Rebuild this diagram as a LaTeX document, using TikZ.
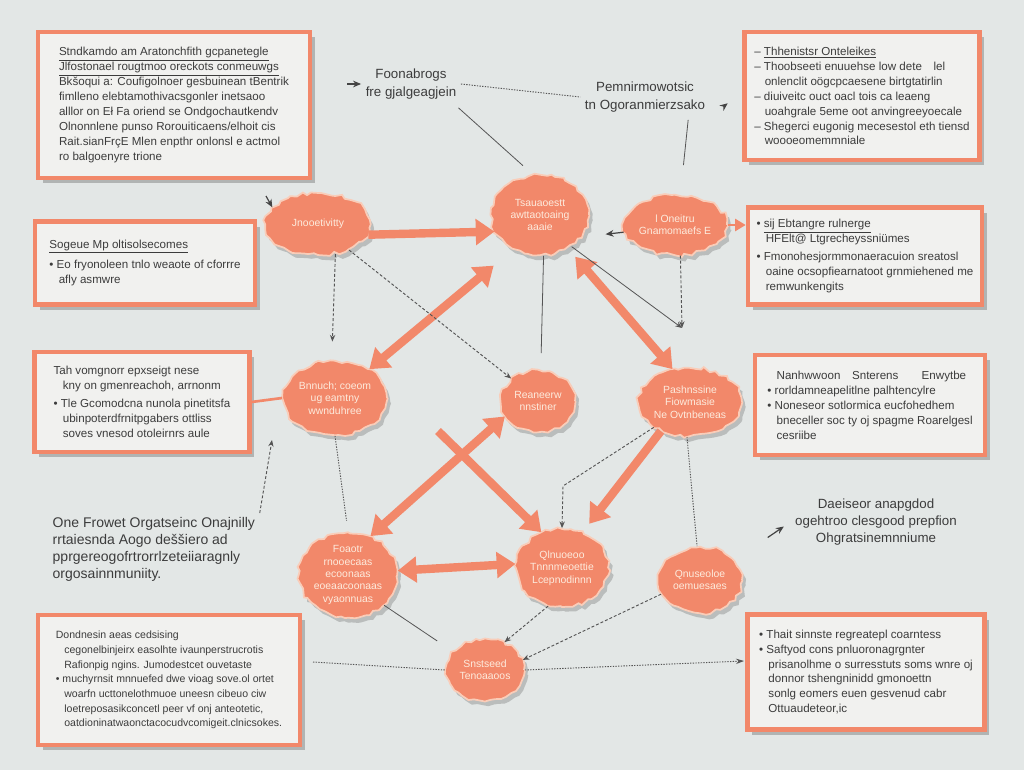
\documentclass[tikz,border=0pt]{standalone}
\usepackage{fontspec}
\setmainfont{Liberation Sans}
\usetikzlibrary{arrows.meta,shapes.geometric,shadows,decorations.pathmorphing,calc}
\definecolor{bg}{HTML}{E3E7E6}
\definecolor{org}{HTML}{F2886A}
\definecolor{rim}{HTML}{F9CDB9}
\definecolor{boxfill}{HTML}{F1F1EF}
\definecolor{ink}{HTML}{3C3C3C}
\definecolor{blobtxt}{HTML}{FDEBDD}
\definecolor{con}{HTML}{555555}
\begin{document}
\begin{tikzpicture}[x=0.75pt,y=-0.75pt,
  infobox/.style={draw=org, line width=3.4pt, fill=boxfill, align=left, text=ink,
    font=\fontsize{8.7}{11.2}\selectfont, inner sep=5pt,
    drop shadow={shadow xshift=3.5pt,shadow yshift=-4pt,fill=black,opacity=0.22}},
  blob/.style={ellipse, fill=org, draw=rim, line width=1.3pt, align=center, text=blobtxt,
    font=\fontsize{7.8}{9.3}\selectfont, inner sep=0.5pt, decorate,
    decoration={random steps,segment length=4pt,amplitude=1.4pt},
    drop shadow={shadow xshift=2.5pt,shadow yshift=-3.5pt,fill=black,opacity=0.18}},
  freetext/.style={text=ink, align=center},
  bigarrow/.style={draw=org, line width=6.3pt, -{Triangle[length=14pt,width=19pt]}},
  bigdouble/.style={draw=org, line width=6.3pt, {Triangle[length=14pt,width=19pt]}-{Triangle[length=14pt,width=19pt]}},
  thinline/.style={draw=con, line width=0.6pt},
  dashedarrow/.style={draw=con, line width=0.7pt, dash pattern=on 2.2pt off 1.5pt, -{Stealth[length=5pt,width=4pt]}},
  dottedline/.style={draw=con, line width=0.7pt, dash pattern=on 1pt off 1pt},
  darkarrow/.style={draw=con!80!black, line width=0.9pt, -{Stealth[length=6pt,width=5pt]}},
  orangeline/.style={draw=org, line width=2pt}
]
\useasboundingbox (0,0) rectangle (1024,770);
\fill[bg] (0,0) rectangle (1024,770);
\pgfmathsetseed{12}

% ---------- info boxes ----------
\node[infobox, minimum width=204pt, minimum height=109.5pt] (tl) at (174,105) {%
\underline{Stndkamdo am Aratonchfith gcpanetegle}\\
\underline{Jlfostonael rougtmoo oreckots conmeuwgs}\\
Bkšoqui a: Coufigolnoer gesbuinean tBentrik\\
fimlleno elebtamothivacsgonler inetsaoo\\
alllor on Eł Fa oriend se Ondgochautkendv\\
Olnonnlene punso Rorouiticaens/elhoit cis\\
Rait.sianFrçE Mlen enpthr onlonsl e actmol\\
ro balgoenyre trione};

\node[infobox, minimum width=176pt, minimum height=96pt] (tr) at (862,96) {%
\textendash{} \underline{Thhenistsr Onteleikes}\\
\textendash{} Thoobseeti enuuehse low dete\quad lel\\
\hspace*{0.9em}onlenclit oögcpcaesene birtgtatirlin\\
\textendash{} diuiveitc ouct oacl tois ca leaeng\\
\hspace*{0.9em}uoahgrale 5eme oot anvingreeyoecale\\
\textendash{} Shegerci eugonig mecesestol eth tiensd\\
\hspace*{0.9em}woooeomemmniale};

\node[infobox, minimum width=165pt, minimum height=62pt] (l2) at (145,263) {%
\underline{Sogeue Mp oltisolsecomes}\\[4pt]
\textbullet{} Eo fryonoleen tnlo weaote of cforrre\\
\hspace*{0.8em}afly asmwre};

\node[infobox, minimum width=175.5pt, minimum height=73pt] (r2) at (865,256) {%
\textbullet{} \underline{sij Ebtangre rulnerge}\\
\hspace*{0.8em}HFElt@ Ltgrecheyssniümes\\[2pt]
\textbullet{} Fmonohesjormmonaeracuion sreatosl\\
\hspace*{0.8em}oaine ocsopfiearnatoot grnmiehened me\\
\hspace*{0.8em}remwunkengits};

\node[infobox, minimum width=161pt, minimum height=75pt] (l3) at (142,402) {%
Tah vomgnorr epxseigt nese\\
\hspace*{0.8em}kny on gmenreachoh, arrnonm\\[2pt]
\textbullet{} Tle Gcomodcna nunola pinetitsfa\\
\hspace*{0.8em}ubinpoterdfrnitpgabers ottliss\\
\hspace*{0.8em}soves vnesod otoleirnrs aule};

\node[infobox, minimum width=172.5pt, minimum height=75pt] (r3) at (870,405) {%
\hspace*{0.8em}Nanhwwoon\quad Snterens\qquad Enwytbe\\
\textbullet{} rorldamneapelitlne palhtencylre\\
\textbullet{} Noneseor sotlormica eucfohedhem\\
\hspace*{0.8em}bneceller soc ty oj spagme Roarelgesl\\
\hspace*{0.8em}cesriibe};

\node[infobox, font=\fontsize{7.9}{11}\selectfont, minimum width=196.5pt, minimum height=97.5pt] (bl) at (169,680) {%
Dondnesin aeas cedsising\\
\hspace*{0.8em}cegonelbinjeirx easolhte ivaunperstrucrotis\\
\hspace*{0.8em}Rafionpig ngins. Jumodestcet ouvetaste\\
\textbullet{} muchyrnsit mnnuefed dwe vioag sove.ol ortet\\
\hspace*{0.8em}woarfn ucttonelothmuoe uneesn cibeuo ciw\\
\hspace*{0.8em}loetreposasikconcetl peer vf onj anteotetic,\\
\hspace*{0.8em}oatdioninatwaonctacocudvcomigeit.clnicsokes.};

\node[infobox, minimum width=178pt, minimum height=86pt] (br) at (866,672) {%
\textbullet{} Thait sinnste regreatepl coarntess\\
\textbullet{} Saftyod cons pnluoronagrgnter\\
\hspace*{0.8em}prisanolhme o surresstuts soms wnre oj\\
\hspace*{0.8em}donnor tshengninidd gmonoettn\\
\hspace*{0.8em}sonlg eomers euen gesvenud cabr\\
\hspace*{0.8em}Ottuaudeteor,ic};

% ---------- free texts ----------
\node[freetext, font=\fontsize{10}{14}\selectfont] (t1) at (411,84) {Foonabrogs\\fre gjalgeagjein};
\node[freetext, font=\fontsize{10}{14}\selectfont] (t2) at (645,97) {Pemnirmowotsic\\tn Ogoranmierzsako};
\node[freetext, align=left, anchor=north west, font=\fontsize{10.5}{12.7}\selectfont] (t3) at (48,513) {One Frowet Orgatseinc Onajnilly\\rrtaiesnda Aogo deššiero ad\\pprgereogofrtrorrlzeteiiaragnly\\orgosainnmuniity.};
\node[freetext, font=\fontsize{10}{12.7}\selectfont] (t4) at (876,522) {Daeiseor anapgdod\\ogehtroo clesgood prepfion\\Ohgratsinemnniume};

% ---------- blobs ----------
\node[blob, minimum width=79pt, minimum height=46.5pt] (A) at (318,224) {Jnooetivitty};
\node[blob, minimum width=73.5pt, minimum height=60pt] (B) at (540,215) {Tsauaoestt\\awttaotoaing\\aaaie};
\node[blob, minimum width=73.5pt, minimum height=45pt] (C) at (675,225) {l Oneitru\\Gnamomaefs E};
\node[blob, minimum width=76.5pt, minimum height=55.5pt] (D) at (335,398) {Bnnuch; coeom\\ug eamtny\\wwnduhree};
\node[blob, minimum width=55.5pt, minimum height=46.5pt] (E) at (538,401) {Reaneerw\\nnstiner};
\node[blob, minimum width=76.5pt, minimum height=51pt] (F) at (690,402) {Pashnssine\\Fiowmasie\\Ne Ovtnbeneas};
\node[blob, minimum width=64.5pt, minimum height=64pt] (G) at (348,575) {Foaotr\\rnooecaas\\ecoonaas\\eoeaacoonaas\\vyaonnuas};
\node[blob, minimum width=69pt, minimum height=58.5pt] (H) at (562,568) {Qlnuoeoo\\Tnnnmeoettie\\Lcepnodinnn};
\node[blob, minimum width=63pt, minimum height=49.5pt] (I) at (700,580) {Qnuseoloe\\oemuesaes};
\node[blob, minimum width=58.5pt, minimum height=46.5pt] (J) at (485,670) {Snstseed\\Tenoaaoos};

% ---------- free-end coordinates ----------
\coordinate (x5) at (438,431);
\coordinate (cc) at (682,328);
\coordinate (fh) at (563,486);
\coordinate (hl) at (313,662);
\coordinate (hr) at (744,661);
\coordinate (t3up) at (272,440);
\coordinate (tlA) at (266,196);

% ---------- thick orange arrows ----------
\draw[bigarrow] (A.-12) -- (B.200);
\draw[bigdouble, shorten >=19pt] (D.40) -- (B.232);
\draw[bigdouble, shorten <=8pt] (B.310) -- (F.118);
\draw[bigdouble] (E.205) -- (G.60);
\draw[bigarrow] (x5) -- (H.120);
\draw[bigarrow, shorten >=8pt] (F.225) -- (H.60);
\draw[bigdouble] (G.5) -- (H.175);

% ---------- thin connectors ----------
\draw[dashedarrow, shorten >=14pt] (A.-60) -- (D.95);
\draw[dashedarrow] (A.-40) -- (E.140);
\draw[dashedarrow] (C.-80) -- (cc);
\draw[thinline, -{Stealth[length=5pt,width=4pt]}] (B.315) -- (cc);
\draw[thinline, shorten >=12pt] (B.275) -- (E.85);
\draw[dashedarrow] (F.215) -- (fh) -- (H.north);
\draw[dottedline] (F.265) -- (I.95);
\draw[dottedline, shorten >=8pt] (D.270) -- (G.90);
\draw[thinline, shorten >=14pt] (G.-40) -- (J.150);
\draw[dashedarrow] (H.250) -- (J.55);
\draw[dashedarrow] (I.200) -- (J.15);
\draw[dottedline] (hl) -- (J.west);
\draw[dottedline, -{Stealth[length=6pt,width=4pt]}] (J.east) -- (hr);
\draw[dottedline] (t1.east) -- (t2.west);
\draw[thinline, shorten <=4pt, shorten >=10pt] (t1.-25) -- (B.100);
\draw[thinline, shorten <=2pt, shorten >=22pt] (t2.-25) -- (C.80);
\draw[darkarrow, shorten <=14pt] (t2.south east) -- ++(18,-14);
\draw[darkarrow] (t1.west) ++(-14,0) -- (t1.west);
\draw[darkarrow, shorten <=30pt, shorten >=6pt] (I.30) -- (t4.west);
\draw[dashedarrow] (t3.north east) -- (t3up);
\draw[darkarrow] (tlA) -- (A.160);
\draw[darkarrow] (C.188) -- ++(-18,2);
\draw[orangeline] (l3.east) -- (D.west);
\draw[orangeline, -{Triangle[length=8pt,width=9pt]}] (C.east) -- (C.east -| r2.west);
\end{tikzpicture}
\end{document}
